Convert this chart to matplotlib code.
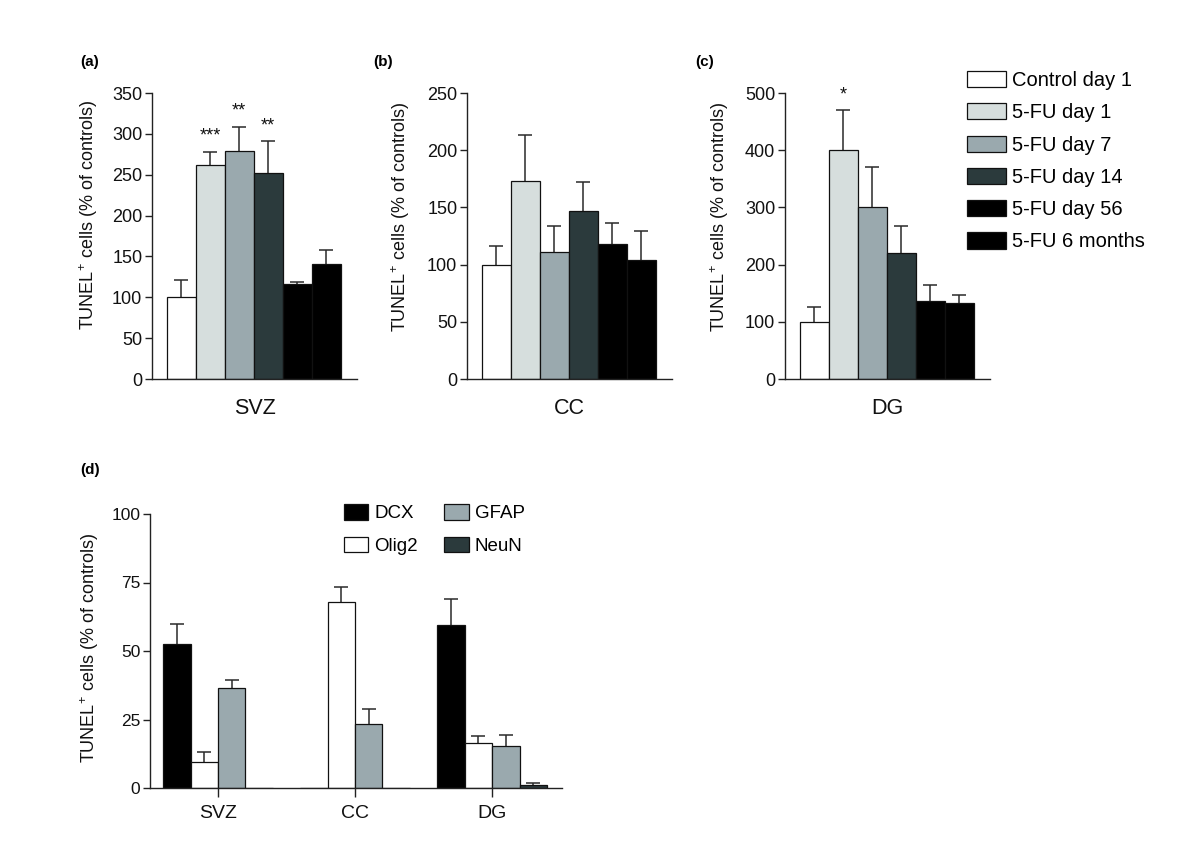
import numpy as np
import matplotlib
matplotlib.use("Agg")
import matplotlib.pyplot as plt
from matplotlib.patches import Patch

plt.rcParams['font.family'] = ['Liberation Sans', 'DejaVu Sans']
plt.rcParams['mathtext.fontset'] = 'custom'
plt.rcParams['mathtext.rm'] = 'Liberation Sans'
plt.rcParams['mathtext.it'] = 'Liberation Sans'

# ---------------- data ----------------
time_groups = ['Control day 1', '5-FU day 1', '5-FU day 7', '5-FU day 14',
               '5-FU day 56', '5-FU 6 months']
time_colors = ['#ffffff', '#d6dedd', '#9aa9ae', '#2b3a3c', '#000000', '#000000']

svz_mean = [100, 262, 279, 252, 116, 141]
svz_err = [21, 16, 30, 39, 3, 17]
svz_sig = ['', '***', '**', '**', '', '']

cc_mean = [100, 173, 111, 147, 118, 104]
cc_err = [16, 40, 23, 25, 18, 25]
cc_sig = ['', '', '', '', '', '']

dg_mean = [100, 400, 300, 221, 137, 132]
dg_err = [26, 70, 71, 47, 27, 14]
dg_sig = ['', '*', '', '', '', '']

regions = ['SVZ', 'CC', 'DG']
markers = ['DCX', 'Olig2', 'GFAP', 'NeuN']
marker_colors = ['#000000', '#ffffff', '#9aa9ae', '#2b3a3c']
dcx_mean = [52.5, 0, 59.5]
dcx_err = [7.5, 0, 9.5]
olig2_mean = [9.5, 68, 16.5]
olig2_err = [3.5, 5.5, 2.5]
gfap_mean = [36.5, 23.5, 15.5]
gfap_err = [3.0, 5.5, 4.0]
neun_mean = [0, 0, 1]
neun_err = [0, 0, 1]

W, H = 1200, 841
fig = plt.figure(figsize=(12, 8.41), dpi=100)

def fx(px):
    return px / W

def fy(py):
    return 1 - py / H

ylab = r'TUNEL$^{+}$ cells (% of controls)'
ecol = '#2a2a2a'
spine_col = '#222222'

def style_axes(ax):
    for s in ['top', 'right']:
        ax.spines[s].set_visible(False)
    for s in ['left', 'bottom']:
        ax.spines[s].set_color(spine_col)
        ax.spines[s].set_linewidth(1.0)
    ax.tick_params(axis='y', length=5, width=1.0, color=spine_col, pad=2,
                   labelsize=13, labelcolor='#111111')

def up_errorbar(ax, x, m, e):
    x = np.asarray(x, float)
    m = np.asarray(m, float)
    e = np.asarray(e, float)
    mask = e > 0
    if not mask.any():
        return
    _, caps, _ = ax.errorbar(x[mask], m[mask],
                             yerr=[np.zeros(mask.sum()), e[mask]],
                             fmt='none', ecolor=ecol, elinewidth=1.1,
                             capsize=5, capthick=1.1, zorder=1)
    # keep only the upper caps
    if len(caps) == 2:
        caps[0].set_visible(False)

def top_panel(left_px, mean, err, sig, ymax, ystep, region, letter, lab_x, lab_y):
    ax = fig.add_axes([fx(left_px), fy(379), fx(205), (379 - 93) / H])
    x = np.arange(len(mean))
    ax.bar(x, mean, width=1.0, color=time_colors, edgecolor='#111111',
           linewidth=0.9, zorder=2)
    up_errorbar(ax, x, mean, err)
    for xi, m, e, s in zip(x, mean, err, sig):
        if s:
            ax.annotate(s, (xi, m + e), xytext=(0, 5), textcoords='offset points',
                        ha='center', va='bottom', fontsize=13, color='#111111')
    ax.set_xlim(-1.0, 6.05)
    ax.set_ylim(0, ymax)
    ax.set_yticks(np.arange(0, ymax + 1, ystep))
    ax.set_xticks([])
    style_axes(ax)
    ax.set_ylabel(ylab, fontsize=13, color='#111111')
    ax.yaxis.set_label_coords(lab_x, lab_y)
    ax.text(0.5, -0.068, region, transform=ax.transAxes, ha='center', va='top',
            fontsize=15.5, color='#111111')
    fig.text(letter[1], letter[2], letter[0], fontsize=11, fontweight='bold',
             ha='left', va='center')
    return ax

top_panel(152, svz_mean, svz_err, svz_sig, 350, 50, 'SVZ', ('(a)', fx(80), fy(62)), -0.255, 0.575)
top_panel(467, cc_mean, cc_err, cc_sig, 250, 50, 'CC', ('(b)', fx(373), fy(62)), -0.27, 0.565)
top_panel(785, dg_mean, dg_err, dg_sig, 500, 100, 'DG', ('(c)', fx(695), fy(62)), -0.265, 0.565)

# legend for top panels
handles = [Patch(facecolor=c, edgecolor='#111111', linewidth=0.9) for c in time_colors]
fig.legend(handles, time_groups, loc='upper left',
           bbox_to_anchor=(fx(967), fy(71)), frameon=False, fontsize=14.5,
           borderpad=0, borderaxespad=0, handlelength=1.95, handleheight=0.85,
           handletextpad=0.3, labelspacing=0.66)

# ---------------- panel (d) ----------------
axd = fig.add_axes([fx(150), fy(788), fx(412), (788 - 514) / H])
xg = np.arange(len(regions))
bw = 0.2
series = [(dcx_mean, dcx_err), (olig2_mean, olig2_err),
          (gfap_mean, gfap_err), (neun_mean, neun_err)]
for i, ((m, e), c, name) in enumerate(zip(series, marker_colors, markers)):
    xp = xg + (i - 1.5) * bw
    axd.bar(xp, m, width=bw, color=c, edgecolor='#111111', linewidth=0.9,
            zorder=2, label=name)
    up_errorbar(axd, xp, m, e)
axd.set_xlim(-0.496, 2.51)
axd.set_ylim(0, 100)
axd.set_yticks([0, 25, 50, 75, 100])
axd.set_xticks(xg)
axd.set_xticklabels(regions)
style_axes(axd)
axd.tick_params(axis='y', labelsize=12.5)
axd.tick_params(axis='x', length=6.5, width=1.0, color=spine_col, pad=6,
                labelsize=14, labelcolor='#111111')
axd.set_ylabel(ylab, fontsize=13, color='#111111')
axd.yaxis.set_label_coords(-0.119, 0.51)
fig.text(fx(80), fy(470), '(d)', fontsize=11, fontweight='bold', ha='left', va='center')

dhandles = [Patch(facecolor=c, edgecolor='#111111', linewidth=0.9) for c in marker_colors]
fig.legend(dhandles, markers, loc='upper left', ncol=2,
           bbox_to_anchor=(fx(344), fy(504)), frameon=False, fontsize=13.5,
           borderpad=0, borderaxespad=0, handlelength=1.3, handleheight=0.9,
           handletextpad=0.32, labelspacing=0.78, columnspacing=1.4)

fig.savefig('out.png', dpi=100)
